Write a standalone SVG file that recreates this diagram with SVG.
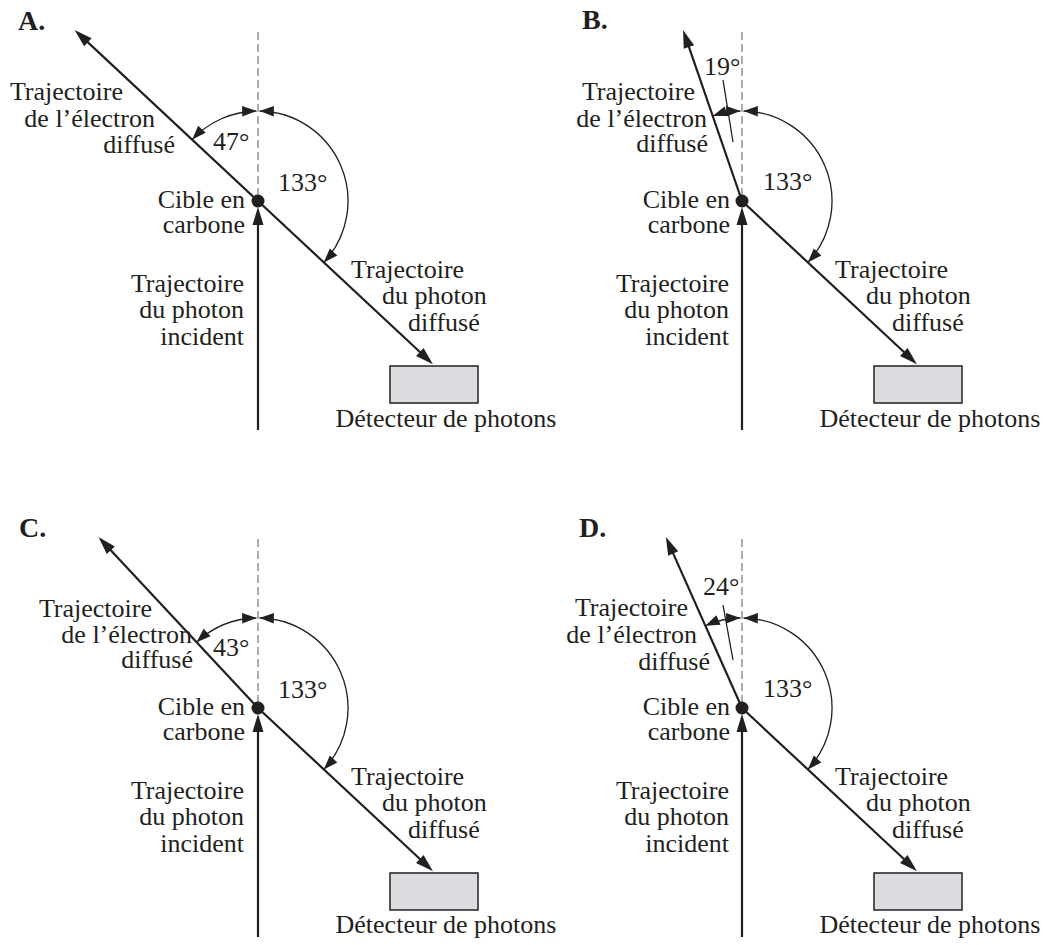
<svg xmlns="http://www.w3.org/2000/svg" width="1051" height="945" viewBox="0 0 1051 945">
<style>
text{font-family:"Liberation Serif","Times New Roman",serif;font-size:26px;fill:#231f20}
.lbl{font-weight:bold;font-size:28px}
.e{text-anchor:end}
.m{text-anchor:middle}
.main{stroke:#231f20;stroke-width:2.2;fill:none;marker-end:url(#big)}
.dash{stroke:#9a9a9a;stroke-width:1.6;stroke-dasharray:8,4;fill:none}
.arc{stroke:#231f20;stroke-width:1.3;fill:none;marker-start:url(#small);marker-end:url(#small)}
.lead{stroke:#231f20;stroke-width:1.3;fill:none}
.det{fill:#dcdde0;stroke:#231f20;stroke-width:1.5}
.dot{fill:#231f20}
</style>
<defs>
<marker id="big" markerUnits="userSpaceOnUse" markerWidth="30" markerHeight="30" refX="-5" refY="0" viewBox="-20 -10 30 20" orient="auto" overflow="visible">
<path d="M-18,-5.5 L0,0 L-18,5.5 z" fill="#231f20"/>
</marker>
<marker id="small" markerUnits="userSpaceOnUse" markerWidth="20" markerHeight="20" refX="0" refY="0" viewBox="-12 -6 14 12" orient="auto-start-reverse" overflow="visible">
<path d="M-10,-3.6 L0,0 L-10,3.6 z" fill="#231f20"/>
</marker>
</defs>

<g id="connectors">
<line class="dash" x1="258" y1="32" x2="258" y2="195"/>
<line class="main" x1="258" y1="201" x2="78.3" y2="33.4"/>
<line class="main" x1="258" y1="201" x2="429.3" y2="360.8"/>
<line class="main" x1="258" y1="430" x2="258" y2="212"/>
<path class="arc" d="M192.18,139.62 A90,90 0 0 1 256.43,111.01"/>
<path class="arc" d="M259.57,111.01 A90,90 0 0 1 323.82,262.38"/>
<line class="dash" x1="742" y1="32" x2="742" y2="195"/>
<line class="main" x1="742" y1="201" x2="684.7" y2="34.7"/>
<line class="main" x1="742" y1="201" x2="913.3" y2="360.8"/>
<line class="main" x1="742" y1="430" x2="742" y2="212"/>
<path class="arc" d="M712.70,115.90 A90,90 0 0 1 740.43,111.01"/>
<path class="arc" d="M743.57,111.01 A90,90 0 0 1 807.82,262.38"/>
<line class="lead" x1="723" y1="80" x2="733" y2="142"/>
<line class="dash" x1="258" y1="539" x2="258" y2="702"/>
<line class="main" x1="258" y1="708" x2="101.9" y2="540.7"/>
<line class="main" x1="258" y1="708" x2="429.3" y2="867.8"/>
<line class="main" x1="258" y1="937" x2="258" y2="719"/>
<path class="arc" d="M196.62,642.18 A90,90 0 0 1 256.43,618.01"/>
<path class="arc" d="M259.57,618.01 A90,90 0 0 1 323.82,769.38"/>
<line class="dash" x1="742" y1="539" x2="742" y2="702"/>
<line class="main" x1="742" y1="708" x2="667.9" y2="541.6"/>
<line class="main" x1="742" y1="708" x2="913.3" y2="867.8"/>
<line class="main" x1="742" y1="937" x2="742" y2="719"/>
<path class="arc" d="M705.39,625.78 A90,90 0 0 1 740.43,618.01"/>
<path class="arc" d="M743.57,618.01 A90,90 0 0 1 807.82,769.38"/>
<line class="lead" x1="723" y1="605" x2="733" y2="660"/>
</g>

<g id="panelA">
<text id="labelA" class="lbl" x="18" y="30">A.</text>
<g id="targetA"><circle class="dot" cx="258" cy="201" r="6.5"/><text class="e" x="245" y="208">Cible en</text><text class="e" x="245" y="233">carbone</text></g>
<g id="electronA"><text class="e" x="123" y="100">Trajectoire</text><text class="e" x="155" y="127">de l’électron</text><text class="e" x="175" y="153">diffusé</text></g>
<g id="incidentA"><text class="e" x="244" y="292">Trajectoire</text><text class="e" x="244" y="318">du photon</text><text class="e" x="244" y="345">incident</text></g>
<g id="scatteredA"><text x="351" y="278">Trajectoire</text><text x="382" y="304">du photon</text><text x="408" y="331">diffusé</text></g>
<g id="detectorA"><rect class="det" x="390" y="366" width="88" height="37"/><text class="m" x="446" y="427">Détecteur de photons</text></g>
<g id="anglesA"><text x="213" y="150">47°</text><text x="278" y="191">133°</text></g>
</g>

<g id="panelB">
<text id="labelB" class="lbl" x="582" y="29">B.</text>
<g id="targetB"><circle class="dot" cx="742" cy="201" r="6.5"/><text class="e" x="730" y="208">Cible en</text><text class="e" x="730" y="233">carbone</text></g>
<g id="electronB"><text class="e" x="695" y="100">Trajectoire</text><text class="e" x="707" y="127">de l’électron</text><text class="e" x="708" y="152">diffusé</text></g>
<g id="incidentB"><text class="e" x="729" y="292">Trajectoire</text><text class="e" x="729" y="318">du photon</text><text class="e" x="729" y="345">incident</text></g>
<g id="scatteredB"><text x="835" y="278">Trajectoire</text><text x="866" y="304">du photon</text><text x="892" y="331">diffusé</text></g>
<g id="detectorB"><rect class="det" x="874" y="366" width="88" height="37"/><text class="m" x="930" y="427">Détecteur de photons</text></g>
<g id="anglesB"><text x="704" y="75">19°</text><text x="763" y="190">133°</text></g>
</g>

<g id="panelC">
<text id="labelC" class="lbl" x="19" y="537">C.</text>
<g id="targetC"><circle class="dot" cx="258" cy="708" r="6.5"/><text class="e" x="245" y="715">Cible en</text><text class="e" x="245" y="740">carbone</text></g>
<g id="electronC"><text class="e" x="152" y="617">Trajectoire</text><text class="e" x="192" y="643">de l’électron</text><text class="e" x="193" y="668">diffusé</text></g>
<g id="incidentC"><text class="e" x="244" y="799">Trajectoire</text><text class="e" x="244" y="825">du photon</text><text class="e" x="244" y="852">incident</text></g>
<g id="scatteredC"><text x="351" y="785">Trajectoire</text><text x="382" y="811">du photon</text><text x="408" y="838">diffusé</text></g>
<g id="detectorC"><rect class="det" x="390" y="873" width="88" height="37"/><text class="m" x="446" y="933">Détecteur de photons</text></g>
<g id="anglesC"><text x="213" y="656">43°</text><text x="278" y="698">133°</text></g>
</g>

<g id="panelD">
<text id="labelD" class="lbl" x="579" y="537">D.</text>
<g id="targetD"><circle class="dot" cx="742" cy="708" r="6.5"/><text class="e" x="730" y="715">Cible en</text><text class="e" x="730" y="740">carbone</text></g>
<g id="electronD"><text class="e" x="688" y="616">Trajectoire</text><text class="e" x="697" y="643">de l’électron</text><text class="e" x="710" y="670">diffusé</text></g>
<g id="incidentD"><text class="e" x="729" y="799">Trajectoire</text><text class="e" x="729" y="825">du photon</text><text class="e" x="729" y="852">incident</text></g>
<g id="scatteredD"><text x="835" y="785">Trajectoire</text><text x="866" y="811">du photon</text><text x="892" y="838">diffusé</text></g>
<g id="detectorD"><rect class="det" x="874" y="873" width="88" height="37"/><text class="m" x="930" y="933">Détecteur de photons</text></g>
<g id="anglesD"><text x="703" y="595">24°</text><text x="763" y="697">133°</text></g>
</g>
</svg>
